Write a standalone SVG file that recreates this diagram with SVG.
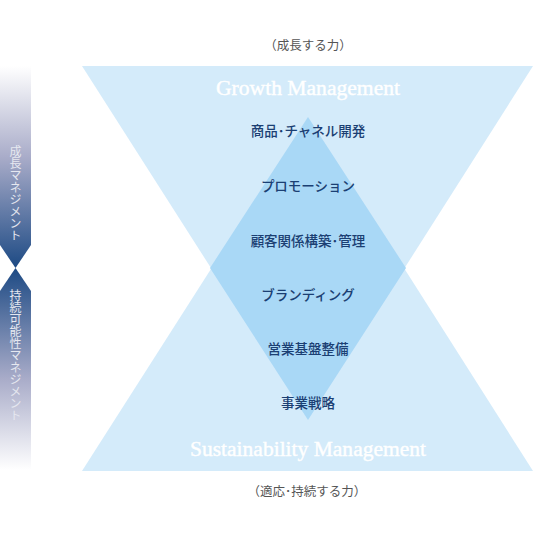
<svg xmlns="http://www.w3.org/2000/svg" width="535" height="538" viewBox="0 0 535 538">
<defs>
<linearGradient id="gUp" x1="0" y1="66" x2="0" y2="268" gradientUnits="userSpaceOnUse">
<stop offset="0" stop-color="#ffffff"/>
<stop offset="0.45" stop-color="#a9acc9"/>
<stop offset="1" stop-color="#1d4a84"/>
</linearGradient>
<linearGradient id="gDown" x1="0" y1="268" x2="0" y2="470" gradientUnits="userSpaceOnUse">
<stop offset="0" stop-color="#1d4a84"/>
<stop offset="0.55" stop-color="#a9acc9"/>
<stop offset="1" stop-color="#ffffff"/>
</linearGradient>
<style>
.tri{fill:#d4ebfa}
.dia{fill:#a9d8f6}
.lbl{font-family:"Noto Sans CJK JP","Noto Sans",sans-serif;font-size:13.5px;fill:#1b3f73;text-anchor:middle;font-weight:500}
.cap{font-family:"Noto Sans CJK JP","Noto Sans",sans-serif;font-size:12.5px;fill:#555555;text-anchor:middle}
.en{font-family:"Liberation Serif",serif;font-size:20px;fill:#ffffff;text-anchor:middle;stroke:#ffffff;stroke-width:0.4}
.vt{font-family:"Noto Sans CJK JP",sans-serif;font-size:12px;fill:#e6e8f0;writing-mode:vertical-rl}
</style>
</defs>
<g id="side-bar">
<polygon points="0,66 31,66 31,245 15.5,268 0,245" fill="url(#gUp)"/>
<polygon points="0,291 15.5,268 31,291 31,470 0,470" fill="url(#gDown)"/>
<text class="vt" x="15.5" y="145">成長マネジメント</text>
<text class="vt" x="15.5" y="289">持続可能性マネジメント</text>
</g>
<g id="growth-triangle">
<polygon class="tri" points="82,66 533,66 308,420"/>
</g>
<g id="sustainability-triangle">
<polygon class="tri" points="308,117 533,471 82,471"/>
</g>
<g id="overlap">
<polygon class="dia" points="308,117 406,268 308,420 210,268"/>
</g>
<g id="captions">
<text class="cap" x="308" y="50">（成長する力）</text>
<text class="cap" x="307" y="496">（適応･持続する力）</text>
<text class="en" x="308" y="95" textLength="184" lengthAdjust="spacingAndGlyphs">Growth Management</text>
<text class="en" x="308" y="456" textLength="236" lengthAdjust="spacingAndGlyphs">Sustainability Management</text>
</g>
<g id="labels">
<text class="lbl" x="308" y="136">商品･チャネル開発</text>
<text class="lbl" x="308" y="191">プロモーション</text>
<text class="lbl" x="308" y="246">顧客関係構築･管理</text>
<text class="lbl" x="308" y="300">ブランディング</text>
<text class="lbl" x="308" y="354">営業基盤整備</text>
<text class="lbl" x="308" y="408">事業戦略</text>
</g>
</svg>
